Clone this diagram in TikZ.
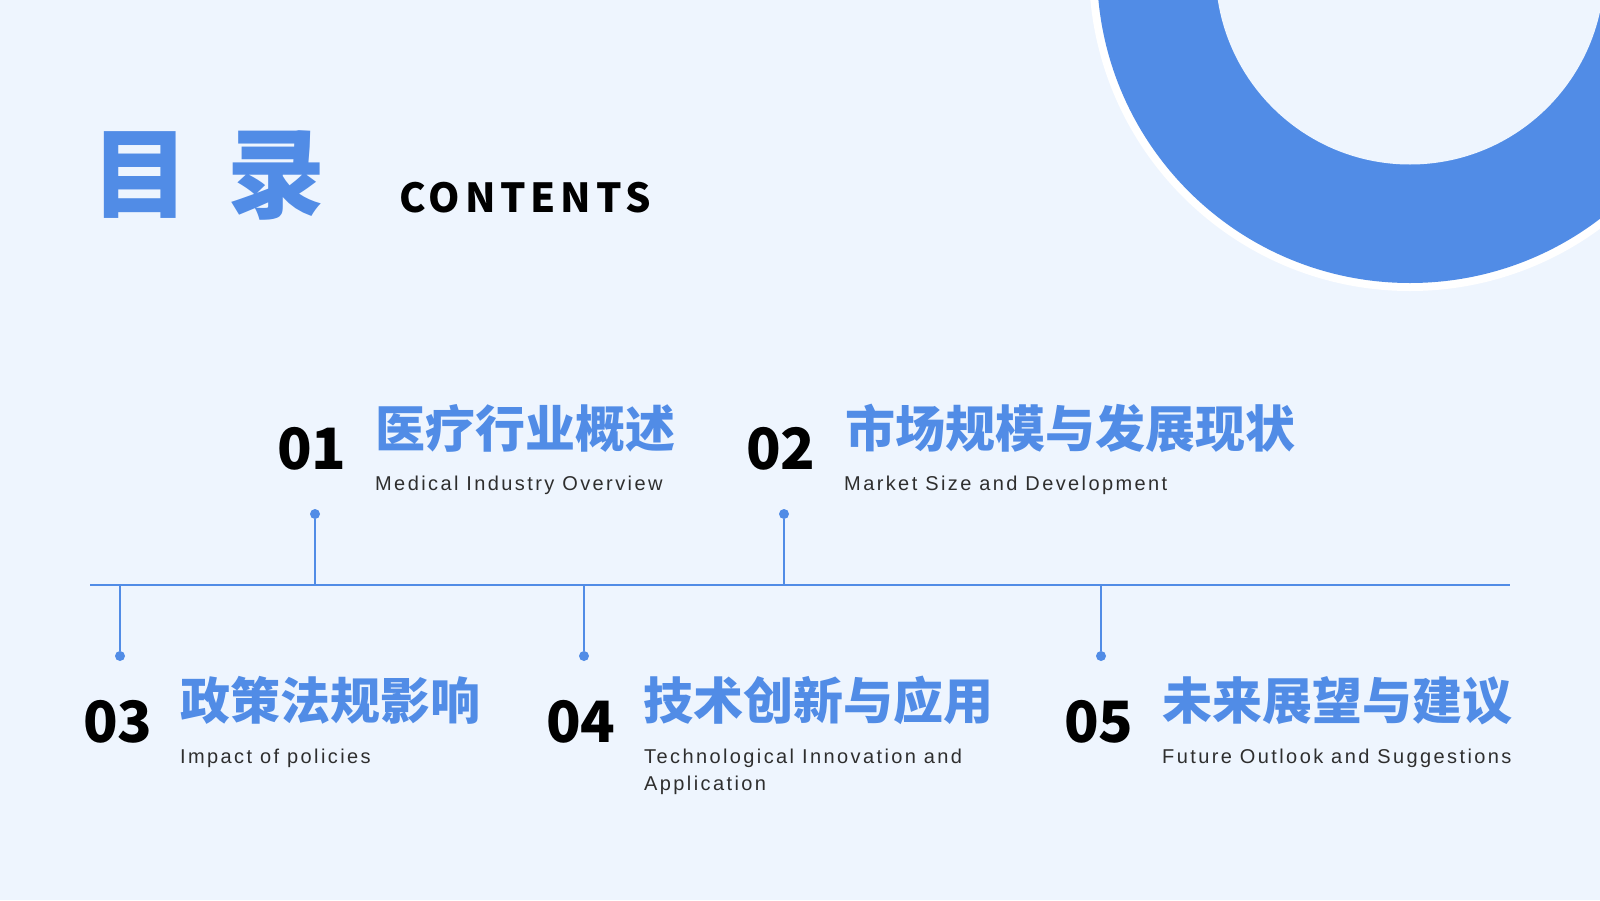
\documentclass[tikz,border=0pt]{standalone}
\usepackage{fontspec}
\newfontfamily\cjkblack{Noto Sans CJK SC Black}
\newfontfamily\cjkcaps{Noto Sans CJK SC Black}[LetterSpace=12]
\newfontfamily\subfont{Liberation Sans}[LetterSpace=12]
\definecolor{pagebg}{HTML}{EEF5FE}
\definecolor{ringblue}{HTML}{518CE6}
\definecolor{subgray}{HTML}{2E2E2E}
\begin{document}
\begin{tikzpicture}[x=1pt,y=-1pt,
    axis/.style={draw=ringblue,line width=2.4pt},
    dot/.style={circle,fill=ringblue,inner sep=0pt,minimum size=10pt},
    num/.style={anchor=base west,inner sep=0pt,font=\cjkblack\fontsize{57}{60}\selectfont},
    head/.style={anchor=base west,inner sep=0pt,text=ringblue,font=\cjkblack\fontsize{50}{60}\selectfont},
    sub/.style={anchor=base west,inner sep=0pt,text=subgray,align=left,font=\subfont\fontsize{20}{27}\selectfont}]

  \useasboundingbox (0,0) rectangle (1600,900);
  \clip (0,0) rectangle (1600,900);
  \fill[pagebg] (0,0) rectangle (1600,900);

  \fill[white] (1410,-30) circle (321pt);
  \fill[ringblue] (1410,-30) circle (313pt);
  \fill[pagebg] (1410,-30) circle (194.5pt);

  \node[anchor=base west,inner sep=0pt,text=ringblue,font=\cjkblack\fontsize{98}{100}\selectfont]
    (title) at (91,210) {目\hspace{38pt}录};
  \node[anchor=base west,inner sep=0pt,font=\cjkcaps\fontsize{40}{44}\selectfont]
    (contents) at (399,212) {CONTENTS};

  \begin{scope}[every node/.style=num]
    \node (n1) at (277,469) {01};
    \node (n2) at (746,469) {02};
    \node (n3) at (83,742)  {03};
    \node (n4) at (546,742) {04};
    \node (n5) at (1064,742) {05};
  \end{scope}

  \begin{scope}[every node/.style=head]
    \node (h1) at (375,447) {医疗行业概述};
    \node (h2) at (845,447) {市场规模与发展现状};
    \node (h3) at (180,719) {政策法规影响};
    \node (h4) at (643,719) {技术创新与应用};
    \node (h5) at (1162,719) {未来展望与建议};
  \end{scope}

  \begin{scope}[every node/.style=sub]
    \node (t1) at (375,490) {Medical Industry Overview};
    \node (t2) at (844,490) {Market Size and Development};
    \node (t3) at (180,763) {Impact of policies};
    \node (t4) at (644,790) {Technological Innovation and\\Application};
    \node (t5) at (1162,763) {Future Outlook and Suggestions};
  \end{scope}

  \coordinate (axisL) at (90,585);
  \coordinate (axisR) at (1510,585);
  \draw[axis] (axisL) -- (axisR);

  \foreach \i/\x/\y in {1/315/514,2/784/514,3/120/656,4/584/656,5/1101/656} {
    \coordinate (f\i) at (\x,585);
    \node[dot] (d\i) at (\x,\y) {};
    \draw[axis] (f\i) -- (d\i);
  }

\end{tikzpicture}
\end{document}
